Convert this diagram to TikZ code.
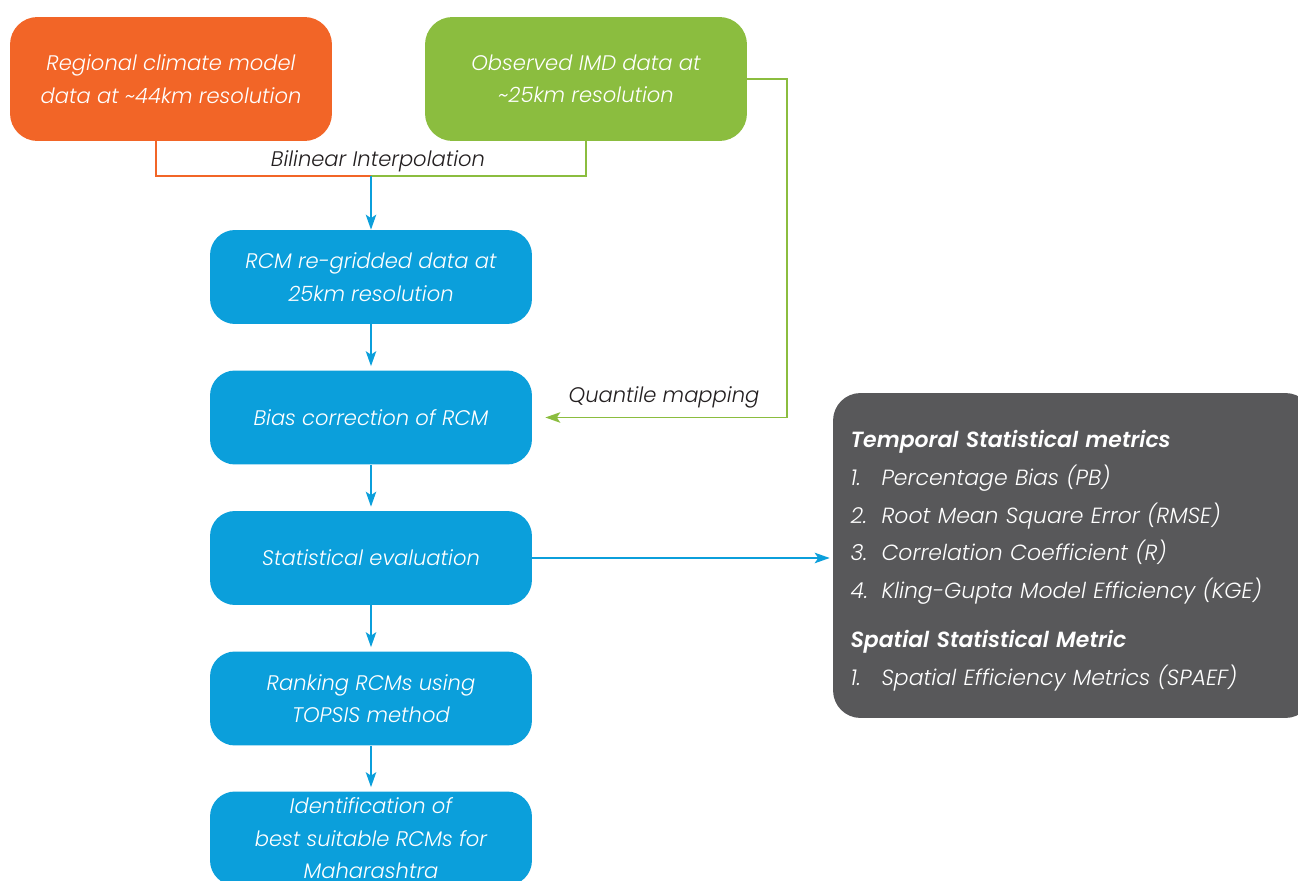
\documentclass[tikz,border=0pt]{standalone}
\usepackage{fontspec}
\setmainfont{Poppins}[ItalicFont={Poppins Light Italic}, BoldItalicFont={Poppins SemiBold Italic}]
\usetikzlibrary{arrows.meta}
\definecolor{rcmorange}{HTML}{F26527}
\definecolor{imdgreen}{HTML}{8BBD3F}
\definecolor{stepblue}{HTML}{0B9FDB}
\definecolor{metricgray}{HTML}{58585A}
\definecolor{labeltext}{HTML}{231F20}

\begin{document}
\begin{tikzpicture}[x=0.02cm, y=-0.02cm,
  databox/.style={rounded corners=0.55cm, minimum width=6.44cm, minimum height=2.48cm,
    text=white, align=center, font=\fontsize{12}{18.5}\selectfont\itshape},
  stepbox/.style={rounded corners=0.5cm, fill=stepblue, minimum width=6.44cm, minimum height=1.88cm,
    text=white, align=center, font=\fontsize{12}{18.5}\selectfont\itshape},
  flowline/.style={line width=0.9pt},
  tip/.style={-{Stealth[length=3mm, width=2.1mm, inset=0.7mm]}},
  pathlabel/.style={text=labeltext, font=\fontsize{12}{16}\selectfont\itshape}]
  \useasboundingbox (0,0) rectangle (1298,881);
  \node[databox, fill=rcmorange] (rcm) at (171,79) {Regional climate model\\data at \textasciitilde44km resolution};
  \node[databox, fill=imdgreen] (imd) at (586,79) {Observed IMD data at\\\textasciitilde25km resolution};
  \node[stepbox] (regrid) at (371,277) {RCM re-gridded data at\\25km resolution};
  \node[stepbox] (bias) at (371,417.5) {Bias correction of RCM};
  \node[stepbox] (stat) at (371,558) {Statistical evaluation};
  \node[stepbox] (rank) at (371,698.5) {Ranking RCMs using\\TOPSIS method};
  \node[stepbox] (best) at (371,838.5) {Identification of\\best suitable RCMs for\\Maharashtra};
  \node[rounded corners=0.55cm, fill=metricgray, minimum width=9.6cm, minimum height=6.5cm,
    text width=8.9cm, inner xsep=0.3cm, align=left, text=white,
    font=\fontsize{12.5}{21.4}\selectfont\itshape] (metrics) at (1073,555.5)
    {\rule{0pt}{0.56cm}\textbf{Temporal Statistical metrics}\\
     \makebox[0.62cm][l]{1.}Percentage Bias (PB)\\
     \makebox[0.62cm][l]{2.}Root Mean Square Error (RMSE)\\
     \makebox[0.62cm][l]{3.}Correlation Coefficient (R)\\
     \makebox[0.62cm][l]{4.}Kling-Gupta Model Efficiency (KGE)\\[0.24cm]
     \textbf{Spatial Statistical Metric}\\
     \makebox[0.62cm][l]{1.}Spatial Efficiency Metrics (SPAEF)};
  \coordinate (join) at (371,176);
  \coordinate (turn) at (787,0);
  \draw[flowline, rcmorange] (156,0 |- rcm.south) |- (join);
  \draw[flowline, imdgreen] (586,0 |- imd.south) |- (join);
  \draw[flowline, stepblue, tip] (join) -- (regrid);
  \draw[flowline, imdgreen, tip, shorten >=0.26cm] (imd.east) -| (turn |- bias.east) -- (bias.east);
  \draw[flowline, stepblue, tip, shorten >=0.08cm] (regrid) -- (bias);
  \draw[flowline, stepblue, tip, shorten >=0.08cm] (bias) -- (stat);
  \draw[flowline, stepblue, tip, shorten >=0.08cm] (stat) -- (rank);
  \draw[flowline, stepblue, tip, shorten >=0.08cm] (rank) -- (best);
  \draw[flowline, stepblue, tip, shorten >=0.06cm] (stat) -- (metrics.west |- stat);
  \node[pathlabel] (bilinear) at (378,161) {Bilinear Interpolation};
  \node[pathlabel] (quantile) at (664,397) {Quantile mapping};
\end{tikzpicture}
\end{document}
